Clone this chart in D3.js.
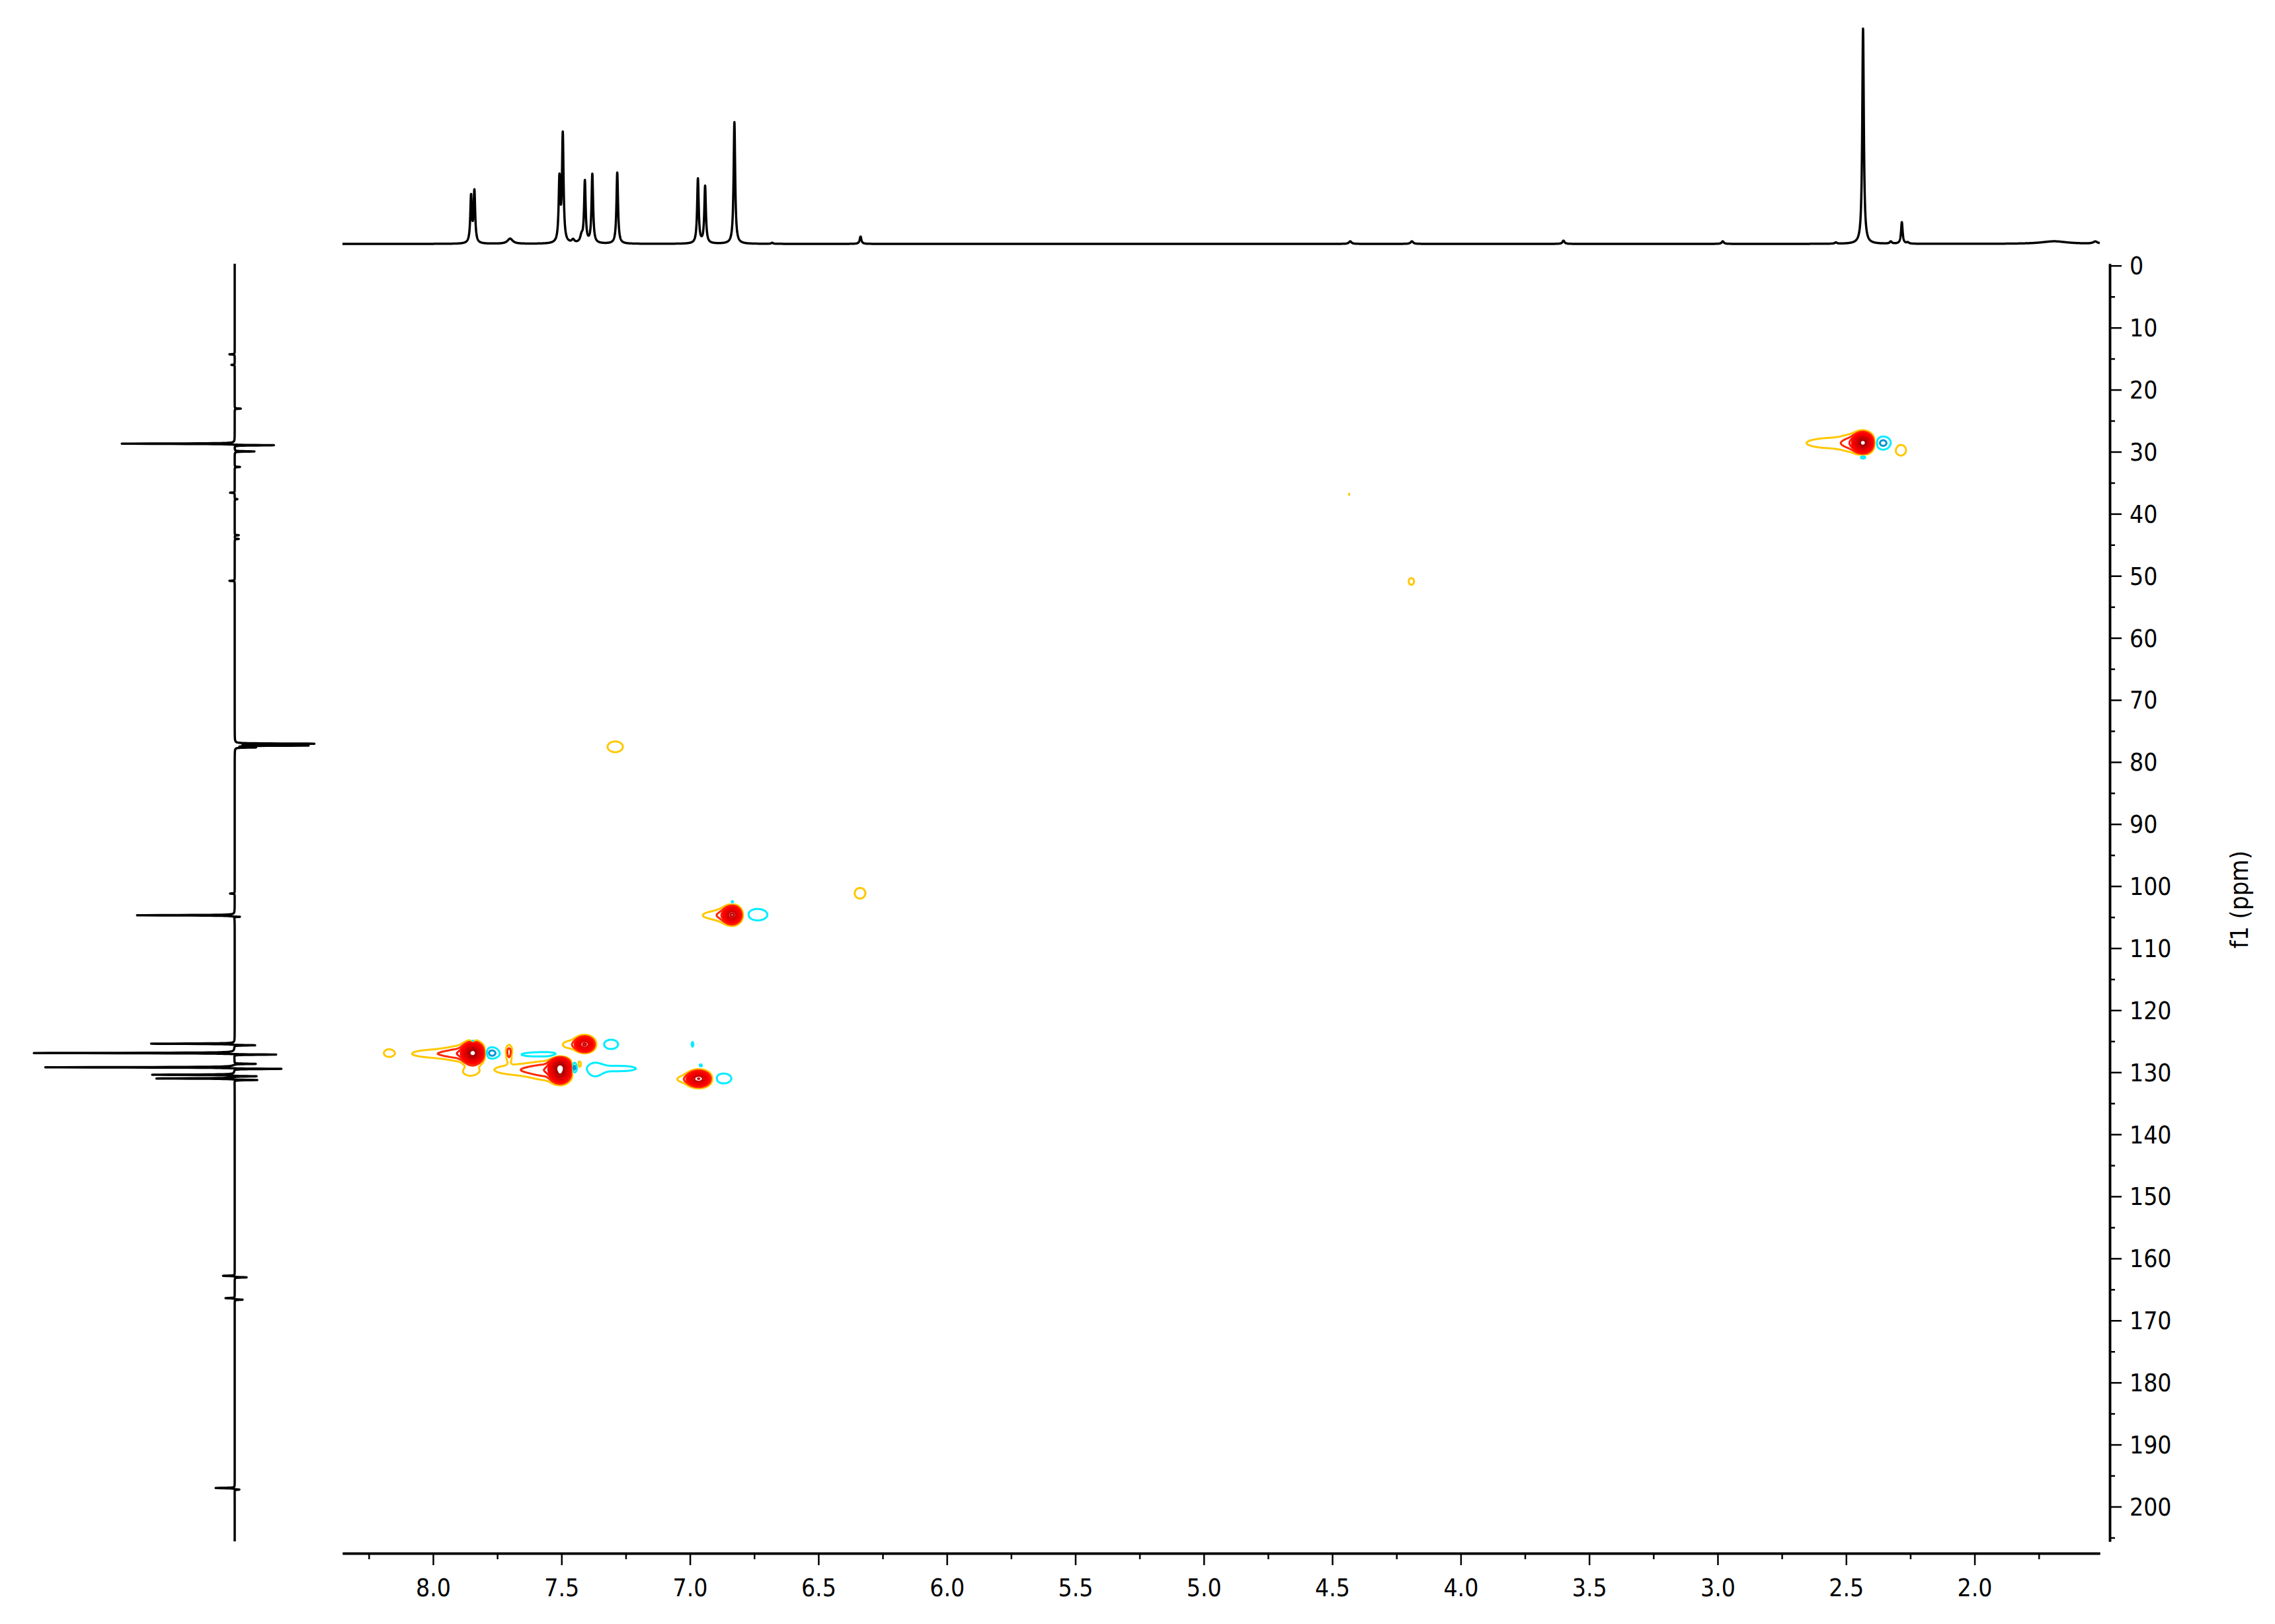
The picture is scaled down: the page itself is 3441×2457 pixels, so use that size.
<!DOCTYPE html>
<html><head><meta charset="utf-8">
<script src="https://cdn.jsdelivr.net/npm/d3@7"></script>
<style>
html,body{margin:0;padding:0;background:#fff;}
svg{display:block;background:#fff;}
text{font-family:"DejaVu Sans Condensed","DejaVu Sans",sans-serif;font-stretch:condensed;fill:#000;}
</style></head><body>
<svg id="chart" width="3441" height="2457"></svg>
<script>
// ---------------- data ----------------
// 1H projection (top): shift (ppm), height (% of tallest), half width (ppm)
const protonShift  = [7.852, 7.839, 7.700, 7.508, 7.495, 7.455, 7.422, 7.409, 7.380, 7.283, 6.969, 6.941, 6.827, 6.680, 6.336, 4.430, 4.190, 3.600, 2.980, 2.540, 2.434, 2.326, 2.283, 2.260, 1.690, 1.530];
const protonHeight = [21.5, 23.8, 2.4, 29, 50, 1.5, 3, 28.5, 32, 33, 30, 26.5, 56.5, 0.5, 3.4, 1.2, 1.2, 1.5, 1.2, 0.6, 100, 1, 10, 0.6, 1.2, 1];
const protonWidth  = [0.0036, 0.0036, 0.012, 0.0036, 0.0036, 0.006, 0.006, 0.0036, 0.0036, 0.0036, 0.0036, 0.0036, 0.0036, 0.004, 0.004, 0.006, 0.006, 0.005, 0.005, 0.005, 0.0036, 0.005, 0.0036, 0.005, 0.06, 0.01];

// 13C projection (left): shift (ppm), lobe to the left, lobe to the right (% of tallest)
const carbonShift = [14.3, 16.0, 22.8, 28.7, 29.7, 32.2, 36.6, 37.4, 43.2, 43.8, 50.8, 76.8, 77.1, 77.4, 101.2, 104.7, 125.4, 126.9, 128.4, 129.2, 130.4, 131.0, 162.8, 166.4, 197.0];
const carbonLeft  = [2.6, 1.6, 0, 56.4, 0, 0, 2.3, 0, 0, 0, 2.6, 0, 0, 0, 2.3, 48.5, 41.6, 100, 0, 94.4, 41, 39, 5.9, 4.6, 9.5];
const carbonRight = [0, 0, 3, 20.5, 9.8, 2.6, 0, 1.3, 2, 2, 0, 39, 36, 10, 0, 3.5, 11, 22.5, 10.8, 25, 12, 12, 6, 4, 2.5];

// HSQC 2D components: f2 (1H ppm), f1 (13C ppm), amplitude (+/-), width along f2 (ppm), width along f1 (ppm)
const hsqcH = [
  2.434, 2.470, 2.537, 2.357, 2.434, 2.287,
  6.835, 6.861, 6.899, 6.737, 6.835,
  7.410, 7.467, 7.307,
  7.845, 7.884, 7.961, 7.773, 7.845,
  7.704, 8.172, 7.856,
  7.505, 7.505, 7.551, 7.634, 7.452, 7.430, 7.370, 7.275, 7.565,
  6.966, 7.025, 6.869, 6.990, 6.958,
  7.291, 6.338, 4.192, 4.433];
const hsqcC = [
  28.55, 28.60, 28.60, 28.60, 30.85, 29.80,
  104.65, 104.70, 104.70, 104.60, 102.60,
  125.50, 125.55, 125.50,
  126.90, 126.95, 127.00, 126.90, 125.10,
  126.90, 126.90, 129.90,
  129.20, 130.50, 129.80, 129.60, 129.30, 128.70, 129.60, 129.40, 127.15,
  131.05, 131.10, 131.00, 125.50, 128.90,
  77.55, 101.15, 50.90, 36.85];
const hsqcAmp = [
  1.0, 0.06, 0.05, -0.10, -0.055, 0.05,
  0.7, 0.05, 0.045, -0.065, -0.045,
  0.55, 0.045, -0.06,
  1.0, 0.06, 0.06, -0.10, -0.13,
  0.10, 0.045, 0.045,
  1.0, 0.55, 0.06, 0.06, -0.12, 0.045, -0.05, -0.045, -0.05,
  0.7, 0.04, -0.06, -0.045, -0.045,
  0.05, 0.05, 0.05, 0.034];
const hsqcSigH = [
  0.0180, 0.0309, 0.1158, 0.0232, 0.0103, 0.0193,
  0.0167, 0.0257, 0.0566, 0.0309, 0.0064,
  0.0193, 0.0309, 0.0232,
  0.0193, 0.0463, 0.1029, 0.0206, 0.0051,
  0.0090, 0.0180, 0.0257,
  0.0193, 0.0180, 0.0515, 0.1081, 0.0090, 0.0064, 0.0283, 0.0721, 0.0952,
  0.0224, 0.0309, 0.0257, 0.0039, 0.0051,
  0.0296, 0.0206, 0.0103, 0.0051];
const hsqcSigC = [
  0.746, 0.959, 0.852, 0.746, 0.266, 0.799,
  0.692, 0.852, 0.639, 0.746, 0.266,
  0.639, 0.639, 0.639,
  0.799, 0.959, 0.586, 0.639, 0.213,
  0.852, 0.586, 0.639,
  0.746, 0.639, 1.172, 0.746, 0.639, 0.533, 1.065, 0.479, 0.426,
  0.618, 0.533, 0.671, 0.426, 0.213,
  0.852, 0.852, 0.533, 0.213];

const posLevels = [0.03, 0.065, 0.11, 0.16, 0.22, 0.3, 0.4, 0.53, 0.7, 0.88];
const posColors = ['#FFC800', '#FF2800', '#FF1400', '#FF0000', '#F80000', '#EE0000', '#E20000', '#D40000', '#C20000', '#A80000'];
const negLevels = [0.03, 0.07, 0.12];
const negColors = ['#00ECFF', '#0096D6', '#0062B0'];

const xTicks = [8.0, 7.5, 7.0, 6.5, 6.0, 5.5, 5.0, 4.5, 4.0, 3.5, 3.0, 2.5, 2.0];
const xMinor = [8.25, 7.75, 7.25, 6.75, 6.25, 5.75, 5.25, 4.75, 4.25, 3.75, 3.25, 2.75, 2.25, 1.75];
const yTicks = d3.range(0, 201, 10);
const yMinor = d3.range(5, 206, 10);

// ---------------- layout ----------------
const svg = d3.select('#chart');
const x = d3.scaleLinear().domain([8.3525, 1.5125]).range([518, 3176]);
const y = d3.scaleLinear().domain([-0.3, 205.6]).range([399, 2332]);
const hY = d3.scaleLinear().domain([0, 100]).range([369, 43]);
const cX = d3.scaleLinear().domain([0, 100]).range([355, 50]);

// 1H projection
const hPts = [];
for (let d = x.domain()[0]; d >= x.domain()[1]; d -= 0.0004) {
  let s = 0;
  for (let k = 0; k < protonShift.length; k++) {
    const g = protonWidth[k], dd = d - protonShift[k];
    s += protonHeight[k] * g * g / (dd * dd + g * g);
  }
  hPts.push([d, s]);
}
svg.append('path')
  .attr('d', d3.line().x(p => x(p[0])).y(p => hY(p[1]))(hPts))
  .attr('fill', 'none').attr('stroke', '#000').attr('stroke-width', 3.5).attr('stroke-linejoin', 'round');

// 13C projection
const cPts = [];
const cg = 0.035, cOff = 0.25;
for (let d = y.domain()[0]; d <= y.domain()[1]; d += 0.01) {
  let s = 0;
  for (let k = 0; k < carbonShift.length; k++) {
    const d1 = d - carbonShift[k], d2 = d - carbonShift[k] - cOff;
    s += carbonLeft[k] * cg * cg / (d1 * d1 + cg * cg);
    s -= carbonRight[k] * cg * cg / (d2 * d2 + cg * cg);
  }
  cPts.push([d, s]);
}
svg.append('path')
  .attr('d', d3.line().x(p => cX(p[1])).y(p => y(p[0]))(cPts))
  .attr('fill', 'none').attr('stroke', '#000').attr('stroke-width', 3.5).attr('stroke-linejoin', 'round');

// 2D contour field
const x0 = 518, y0 = 399, step = 1.5;
const nx = Math.ceil((3176 - x0) / step) + 1, ny = Math.ceil((2332 - y0) / step) + 1;
const field = new Float64Array(nx * ny);
for (let k = 0; k < hsqcH.length; k++) {
  const cx = x(hsqcH[k]), cy = y(hsqcC[k]);
  const sx = Math.abs(x(hsqcH[k] + hsqcSigH[k]) - cx), sy = Math.abs(y(hsqcC[k] + hsqcSigC[k]) - cy);
  const A = hsqcAmp[k];
  const i0 = Math.max(0, Math.floor((cx - 5 * sx - x0) / step)), i1 = Math.min(nx - 1, Math.ceil((cx + 5 * sx - x0) / step));
  const j0 = Math.max(0, Math.floor((cy - 5 * sy - y0) / step)), j1 = Math.min(ny - 1, Math.ceil((cy + 5 * sy - y0) / step));
  for (let j = j0; j <= j1; j++) {
    const ty = (y0 + j * step - cy) / sy;
    for (let i = i0; i <= i1; i++) {
      const tx = (x0 + i * step - cx) / sx;
      field[j * nx + i] += A * Math.exp(-0.5 * (tx * tx + ty * ty));
    }
  }
}
const negField = field.map(v => -v);
const gridPath = d3.geoPath(d3.geoTransform({
  point(px, py) { this.stream.point(x0 + (px - 0.5) * step, y0 + (py - 0.5) * step); }
}));
const gC = svg.append('g').attr('fill', 'none').attr('stroke-width', 3).attr('stroke-linejoin', 'round');
d3.contours().size([nx, ny]).thresholds(negLevels)(negField).forEach((c, k) => {
  gC.append('path').attr('d', gridPath(c)).attr('stroke', negColors[k]);
});
d3.contours().size([nx, ny]).thresholds(posLevels)(field).forEach((c, k) => {
  gC.append('path').attr('d', gridPath(c)).attr('stroke', posColors[k]);
});

// axes
const FS = 37;
const gx = svg.append('g').attr('transform', 'translate(0,2350)');
gx.call(d3.axisBottom(x).tickValues(xMinor).tickSize(9).tickSizeOuter(0).tickFormat(''));
gx.append('g').call(d3.axisBottom(x).tickValues(xTicks).tickSize(18).tickSizeOuter(0).tickFormat(d3.format('.1f')));
gx.selectAll('.domain').attr('stroke-width', 3.5);
gx.selectAll('.tick line').attr('stroke-width', 2.5);
gx.selectAll('.tick text').attr('y', 52).attr('dy', '0.35em').attr('font-size', FS).attr('font-family', null);

const gy = svg.append('g').attr('transform', 'translate(3191,0)');
gy.call(d3.axisRight(y).tickValues(yMinor).tickSize(8).tickSizeOuter(0).tickFormat(''));
gy.append('g').call(d3.axisRight(y).tickValues(yTicks).tickSize(18).tickSizeOuter(0).tickFormat(d3.format('d')));
gy.selectAll('.domain').attr('stroke-width', 3.5);
gy.selectAll('.tick line').attr('stroke-width', 2.5);
gy.selectAll('.tick text').attr('x', 30).attr('dy', '0.35em').attr('font-size', FS).attr('font-family', null);

svg.append('text')
  .attr('transform', 'translate(3387,1361) rotate(-90)')
  .attr('text-anchor', 'middle').attr('dy', '0.35em')
  .attr('font-size', 38).text('f1 (ppm)');
</script>
</body></html>
